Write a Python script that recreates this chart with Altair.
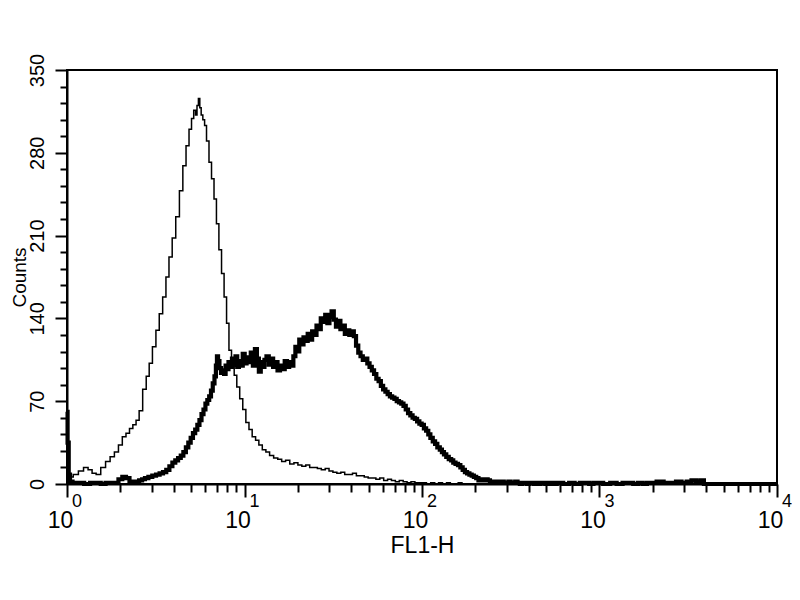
import altair as alt
import pandas as pd

# ---- data ----
ctrl_x = [1.00, 1.05, 1.12, 1.2, 1.28, 1.35, 1.42, 1.5, 1.6, 1.7, 1.8, 1.9, 2.0, 2.1, 2.2, 2.3,
          2.4, 2.5, 2.6, 2.74, 2.85, 2.96, 3.1, 3.24, 3.38, 3.54, 3.68, 3.83, 4.0, 4.2, 4.4, 4.59,
          4.78, 4.96, 5.1, 5.25, 5.35, 5.45, 5.55, 5.65, 5.75, 5.9, 6.02, 6.2, 6.42, 6.62, 6.85,
          7.05, 7.3, 7.55, 7.8, 8.05, 8.3, 8.6, 8.9, 9.2, 9.6, 9.96, 10.4, 10.8, 11.3, 11.8, 12.3,
          12.9, 13.5, 14.2, 15.0, 15.8, 16.6, 17.5, 18.5, 19.5, 20.5, 21.6, 22.7, 23.9, 25.1, 26.4,
          27.8, 29.2, 30.7, 32.3, 34.0, 35.8, 37.6, 39.6, 41.6, 43.8, 46.1, 48.5, 51.0, 53.6, 56.4,
          59.3, 62.4, 65.6, 69.0, 72.6, 76.4, 80.3, 84.5, 88.9, 93.5, 98.3, 103, 109, 115, 121,
          127, 134, 141, 148, 156, 164, 172, 181, 190, 200, 220, 250]
ctrl_counts = [3, 6, 8, 11, 14, 12, 9, 8, 14, 19, 23, 27, 33, 40, 43, 47,
               50, 54, 62, 80, 91, 102, 116, 130, 144, 158, 175, 192, 208, 226, 248, 269,
               286, 300, 309, 316, 312, 320, 326, 318, 312, 308, 303, 290, 272, 258, 241,
               220, 198, 178, 158, 136, 113, 100, 92, 82, 72, 63, 52, 46, 40, 37, 33,
               29, 27, 24, 22, 21, 19, 20, 17, 18, 16, 15, 16, 14, 14, 13,
               12, 13, 11, 10, 9, 10, 8, 8, 9, 7, 7, 6, 5, 5, 4,
               5, 3, 4, 3, 2, 3, 2, 1, 2, 1, 1, 1, 0, 1, 0,
               1, 0, 1, 0, 0, 1, 0, 0, 0, 0, 0, 0]

stain_x = [1.0, 1.015, 1.03, 1.05, 1.1, 1.2, 1.3, 1.4, 1.5, 1.6, 1.7, 1.8, 1.9, 2.0, 2.1, 2.2,
           2.3, 2.4, 2.5, 2.6, 2.7, 2.8, 2.95, 3.1, 3.25, 3.4, 3.55, 3.7, 3.85, 4.0, 4.15, 4.3,
           4.45, 4.6, 4.75, 4.9, 5.05, 5.2, 5.35, 5.5, 5.65, 5.8, 5.95, 6.1, 6.25, 6.4, 6.55,
           6.7, 6.85, 6.95, 7.04, 7.15, 7.3, 7.45, 7.6, 7.75, 7.9, 8.05, 8.2, 8.4, 8.6, 8.8, 9.0,
           9.2, 9.4, 9.65, 9.9, 10.15, 10.4, 10.7, 11.0, 11.3, 11.6, 11.9, 12.2, 12.5, 12.8, 13.1,
           13.5, 13.9, 14.3, 14.7, 15.1, 15.6, 16.1, 16.6, 17.1, 17.6, 18.1, 18.6, 19.1, 19.6,
           20.1, 20.6, 21.2, 21.8, 22.4, 23.0, 23.7, 24.4, 25.1, 25.8, 26.5, 27.3, 28.1, 28.9,
           29.7, 30.5, 31.4, 32.3, 33.2, 34.2, 35.2, 36.2, 37.3, 38.4, 39.5, 40.7, 41.9, 43.1,
           44.4, 45.7, 47.1, 48.5, 49.9, 51.4, 52.9, 54.5, 56.1, 57.8, 59.5, 61.3, 63.1, 65.0,
           66.9, 68.9, 71.0, 73.1, 75.3, 77.5, 79.8, 82.2, 84.7, 87.2, 89.8, 92.5, 95.2, 98.1,
           101, 104, 107, 110, 113, 117, 120, 124, 128, 131, 135, 139, 144, 148, 152, 157, 162,
           167, 172, 177, 182, 188, 193, 199, 205, 211, 217, 224, 231, 238, 245, 253, 260, 268,
           276, 285, 293, 302, 311, 321, 330, 340, 351, 361, 372, 384, 395, 407, 420, 432, 446,
           459, 473, 487, 502, 517, 533, 549, 566, 583, 600, 650, 700, 750, 800, 850, 900, 950,
           1000, 1100, 1200, 1300, 1400, 1500, 1600, 1700, 1800, 1900, 2000, 2200, 2400, 2600,
           2800, 3000, 3200, 3400, 3600, 3800, 3950, 10000]
stain_counts = [61, 35, 8, 2, 1, 1, 0, 1, 1, 0, 1, 1, 1, 4, 6, 5,
                2, 1, 2, 3, 4, 5, 6, 7, 8, 9, 10, 12, 15, 18, 20, 22,
                24, 27, 31, 35, 39, 43, 46, 50, 54, 59, 63, 68, 71, 74, 79,
                85, 91, 100, 108, 104, 98, 94, 96, 93, 100, 97, 103, 99, 106, 101, 108,
                99, 104, 100, 110, 102, 107, 103, 111, 100, 114, 106, 95, 103, 99, 105,
                108, 101, 106, 99, 103, 96, 100, 97, 104, 99, 103, 100, 108, 116,
                112, 122, 118, 124, 121, 127, 122, 129, 126, 134, 131, 140, 137, 143,
                136, 141, 146, 139, 133, 138, 131, 134, 127, 130, 126, 129, 125, 117,
                111, 108, 105, 106, 102, 99, 96, 93, 89, 87, 83, 80, 78, 76,
                74, 73, 72, 70, 69, 68, 66, 63, 60, 58, 56, 55, 53, 51,
                50, 47, 45, 42, 39, 36, 34, 31, 29, 27, 25, 23, 21, 20, 18, 17, 16,
                14, 12, 10, 9, 8, 7, 6, 5, 3, 4, 3, 4, 3, 2, 2, 1, 2,
                1, 2, 1, 1, 2, 1, 1, 2, 1, 0, 1, 1, 0, 1, 1, 0, 1,
                0, 1, 1, 0, 1, 0, 1, 0, 1, 1, 0, 1, 0, 1, 1, 0, 1,
                1, 0, 1, 0, 1, 1, 0, 1, 0, 1, 1, 2, 1, 1,
                2, 1, 2, 3, 2, 3, 0, 0]

x_major = [1, 10, 100, 1000, 10000]
x_exponents = ["0", "1", "2", "3", "4"]
x_minor = [m * d for d in [1, 10, 100, 1000] for m in range(2, 10)]
y_ticks = list(range(0, 351, 14))

FONT = "Liberation Sans"
W, H = 710, 414

ctrl = pd.DataFrame({"x": ctrl_x, "count": ctrl_counts})
stain = pd.DataFrame({"x": stain_x, "count": stain_counts})
exps = pd.DataFrame({"x": x_major, "e": x_exponents})

xscale = alt.Scale(type="log", domain=[1, 10000], nice=False)
yscale = alt.Scale(domain=[0, 350], nice=False, zero=True)

x_axis = alt.Axis(
    values=sorted(x_major + x_minor),
    labelExpr="indexof([1,10,100,1000,10000], datum.value) >= 0 ? '10' : ''",
    tickSize={"condition": {"test": "indexof([1,10,100,1000,10000], datum.value) >= 0", "value": 13}, "value": 8},
    tickWidth=2, tickColor="black",
    domainColor="black", domainWidth=2,
    labelFont=FONT, labelFontSize=23, labelColor="black",
    labelPadding=12, labelOffset=-7, labelFlush=False, labelOverlap=False, labelBound=False,
    title="FL1-H", titleFont=FONT, titleFontSize=23, titleFontWeight="normal", titleColor="black",
    titleBaseline="alphabetic", titleY=68, grid=False,
)
y_axis = alt.Axis(
    values=y_ticks,
    labelExpr="datum.value % 70 == 0 ? datum.label : ''",
    tickSize={"condition": {"test": "datum.value % 70 == 0", "value": 12}, "value": 7},
    tickWidth=2, tickColor="black",
    domainColor="black", domainWidth=2,
    labelFont=FONT, labelFontSize=20, labelColor="black", labelAngle=270,
    labelAlign="center", labelBaseline="bottom", labelPadding=8,
    labelOverlap=False, labelFlush=False, labelBound=False,
    title="Counts", titleFont=FONT, titleFontSize=19, titleFontWeight="normal", titleColor="black",
    titleAngle=270, titleBaseline="alphabetic", titleX=-42, grid=False,
)

enc_x = alt.X("x:Q", scale=xscale, axis=x_axis)
enc_y = alt.Y("count:Q", scale=yscale, axis=y_axis)

thin = alt.Chart(ctrl).mark_line(interpolate="step", color="black", strokeWidth=1.5).encode(
    x=enc_x, y=enc_y)
thick = alt.Chart(stain).mark_line(interpolate="step", color="black", strokeWidth=4.2).encode(
    x=enc_x, y=enc_y)
exp_text = alt.Chart(exps).mark_text(
    font=FONT, fontSize=18, color="black", dx=10, baseline="alphabetic", align="center"
).encode(x=enc_x, y=alt.value(437), text="e:N")

chart = alt.layer(thin, thick, exp_text).properties(
    width=W, height=H,
    autosize=alt.AutoSizeParams(type="none"),
    padding={"left": 59, "top": 62, "right": 15, "bottom": 90},
).configure(
    background="white",
    view=alt.ViewConfig(stroke="black", strokeWidth=2),
)

chart.save("out.html", embed_options={"renderer": "svg", "actions": False})
